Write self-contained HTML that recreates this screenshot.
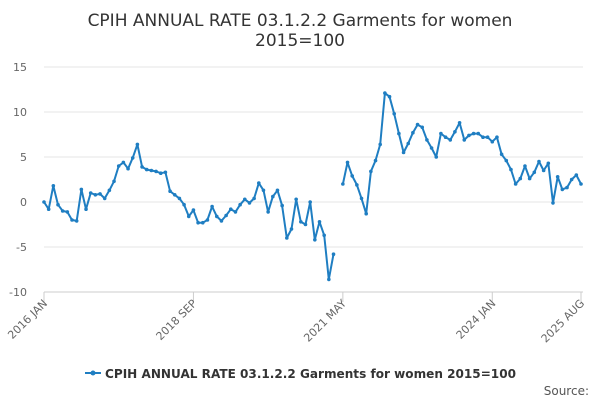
<!DOCTYPE html>
<html><head><meta charset="utf-8"><style>
body{margin:0;background:#fff;font-family:"DejaVu Sans","Liberation Sans",sans-serif}
</style></head><body>
<svg width="600" height="400" id="c" font-family="DejaVu Sans, Liberation Sans, sans-serif">
<text x="300" y="26" text-anchor="middle" font-size="17" fill="#333">CPIH ANNUAL RATE 03.1.2.2 Garments for women</text>
<text x="300" y="46" text-anchor="middle" font-size="17" fill="#333">2015=100</text>
<g id="grid"></g><g id="xax"></g><g id="series"></g>
<g>
<line x1="85" y1="373" x2="101" y2="373" stroke="#1f7ec2" stroke-width="2"/>
<circle cx="93" cy="373" r="2.5" fill="#1f7ec2"/>
<text x="105" y="378" font-size="12" font-weight="bold" fill="#333" textLength="411" lengthAdjust="spacingAndGlyphs">CPIH ANNUAL RATE 03.1.2.2 Garments for women 2015=100</text>
</g>
<text x="589" y="395" text-anchor="end" font-size="12" fill="#555">Source:</text>
</svg>
<script>
const yTicks=[15,10,5,0,-5,-10];
const xTickLabels=["2016 JAN","2018 SEP","2021 MAY","2024 JAN","2025 AUG"];
const xTickIndex=[0,32,64,96,115];
const values=[0,-0.8,1.8,-0.3,-1,-1.1,-2,-2.1,1.4,-0.8,1,0.8,
0.9,0.4,1.3,2.3,4,4.4,3.7,4.9,6.4,3.9,3.6,3.5,
3.4,3.2,3.3,1.2,0.8,0.4,-0.3,-1.6,-0.9,-2.3,-2.3,-2,
-0.5,-1.6,-2.1,-1.5,-0.8,-1.1,-0.3,0.3,-0.1,0.4,2.1,1.3,
-1.1,0.6,1.3,-0.4,-4,-3,0.3,-2.2,-2.5,0,-4.2,
-2.2,-3.7,-8.6,-5.8,null,
2.0,4.4,2.9,1.9,0.4,-1.3,3.4,4.6,6.4,12.1,11.7,9.8,7.6,5.5,6.5,7.7,8.6,8.3,6.9,6.0,
5.0,7.6,7.2,6.9,7.8,8.8,6.9,7.4,7.6,7.6,7.2,7.2,6.7,7.2,5.3,4.6,3.6,2.0,2.6,4.0,
2.6,3.3,4.5,3.5,4.3,-0.1,2.8,1.4,1.6,2.5,3.0,2.0];
const NS="http://www.w3.org/2000/svg";
const x0=44,x1=581,N=values.length;
const xs=i=>x0+(x1-x0)*i/(N-1);
const ys=v=>202-v*9;
function mk(t,a,p){const e=document.createElementNS(NS,t);for(const k in a)e.setAttribute(k,a[k]);p.appendChild(e);return e;}
const grid=document.getElementById('grid');
yTicks.forEach(v=>{
 const l=mk('line',{x1:x0,x2:x1+2,y1:ys(v),y2:ys(v),stroke:v===-10?'#ccc':'#e6e6e6'},grid);
 
 
 const t=mk('text',{x:27,y:ys(v)+4,'text-anchor':'end','font-size':11,fill:'#666'},grid);
 t.textContent=v;
 
 
});
const xax=document.getElementById('xax');
xTickIndex.forEach((ix,k)=>{
 const x=xs(ix);
 const tk=mk('line',{x1:x,x2:x,y1:292,y2:302,stroke:'#ccc'},xax);
 
 
 const t=mk('text',{x:x+4,y:304,'text-anchor':'end','font-size':11,fill:'#666',transform:`rotate(-45 ${x+4} 304)`},xax);
 t.textContent=xTickLabels[k];
 
 
});
const s=document.getElementById('series');
let d='',pen=false;
values.forEach((v,i)=>{
 if(v===null){pen=false;return;}
 d+=(pen?'L':'M')+xs(i).toFixed(1)+' '+ys(v).toFixed(1)+' ';pen=true;
});
const p=mk('path',{d:d,fill:'none',stroke:'#1f7ec2','stroke-width':2,'stroke-linejoin':'round'},s);


values.forEach((v,i)=>{
 if(v===null)return;
 const c=mk('circle',{cx:xs(i),cy:ys(v),r:1.8,fill:'#1f7ec2'},s);
 
 
});
</script>
</body></html>
